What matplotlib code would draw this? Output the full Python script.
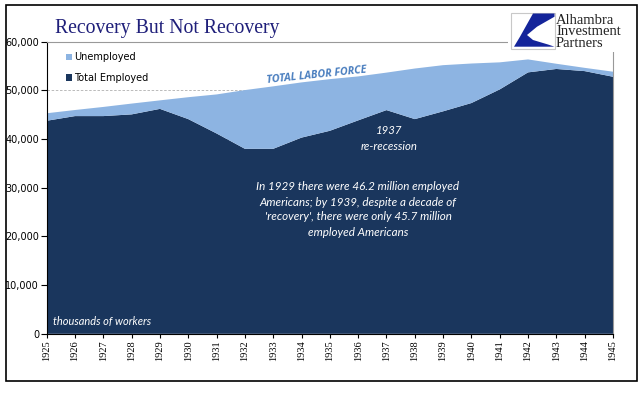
import matplotlib
matplotlib.use("Agg")
import matplotlib.pyplot as plt
from matplotlib.patches import Patch, Rectangle, Polygon
from matplotlib.ticker import FuncFormatter

years = list(range(1925, 1946))
employed = [43760, 44720, 44720, 45070, 46200, 44100, 41150, 38000, 38000, 40300,
            41700, 43840, 45950, 44100, 45700, 47400, 50200, 53700, 54400, 53960, 52800]
unemployed = [1540, 1250, 1880, 2220, 1750, 4500, 8020, 12060, 12830, 11340,
              10610, 9030, 7700, 10390, 9480, 8120, 5560, 2660, 1070, 670, 1040]
y_ticks = [0, 10000, 20000, 30000, 40000, 50000, 60000]

DARK = "#1a365d"
LIGHT = "#8db4e2"
W, H = 641, 401

fig = plt.figure(figsize=(W / 100, H / 100), dpi=100)
fig.patch.set_facecolor("white")

ax = fig.add_axes([46.7 / W, 1 - 333.8 / H, (613 - 46.7) / W, (333.8 - 41.7) / H])
ax.stackplot(years, employed, unemployed, colors=[DARK, LIGHT], linewidth=0)
ax.set_xlim(1925, 1945)
ax.set_ylim(0, 60000)
ax.set_xticks(years)
ax.set_xticklabels([str(y) for y in years], rotation=90, fontsize=7.5,
                   family="Liberation Serif")
ax.set_yticks(y_ticks)
ax.yaxis.set_major_formatter(FuncFormatter(lambda v, p: f"{int(v):,}"))
for lab in ax.get_yticklabels():
    lab.set_fontsize(7)
ax.tick_params(axis="y", length=4, width=0.8, pad=1.5, direction="out")
ax.tick_params(axis="x", length=3, width=0.8, pad=1.5, direction="out")
ax.set_axisbelow(True)
ax.yaxis.grid(True, linestyle=(0, (3, 2)), color="#b0b0b0", linewidth=0.6)
ax.spines["left"].set_color("black")
ax.spines["bottom"].set_color("black")
ax.spines["top"].set_color("#999999")
ax.spines["right"].set_color("#999999")
for s in ["top", "right"]:
    ax.spines[s].set_linewidth(0.8)

# legend
handles = [Patch(facecolor=LIGHT, edgecolor="none"), Patch(facecolor=DARK, edgecolor="none")]
ax.legend(handles, ["Unemployed", "Total Employed"], loc="upper left",
          bbox_to_anchor=(65.5 / W, 1 - 52.5 / H), bbox_transform=fig.transFigure,
          frameon=False, fontsize=7, handlelength=0.65, handleheight=0.65,
          handletextpad=0.25, labelspacing=1.05, borderpad=0, borderaxespad=0)

# overlay in pixel coordinates
ov = fig.add_axes([0, 0, 1, 1], zorder=10)
ov.set_xlim(0, W)
ov.set_ylim(H, 0)
ov.axis("off")
ov.patch.set_alpha(0)

ov.text(317, 75, "TOTAL LABOR FORCE", color="#4a7ebf", fontsize=7.7,
        fontweight="bold", style="italic", family="Open Sans",
        rotation=6, ha="center", va="center")
ov.text(389, 131, "1937", color="white", fontsize=8.2, style="italic",
        family="Lato", ha="center", va="center")
ov.text(389, 146, "re-recession", color="white", fontsize=8.2, style="italic",
        family="Lato", ha="center", va="center")
para = ["In 1929 there were 46.2 million employed",
        "Americans; by 1939, despite a decade of",
        "'recovery', there were only 45.7 million",
        "employed Americans"]
for i, line in enumerate(para):
    ov.text(358, 187 + 15 * i, line, color="white", fontsize=8.4, style="italic",
            family="Lato", ha="center", va="center")
ov.text(53, 321, "thousands of workers", color="white", fontsize=7.9,
        style="italic", family="Lato", ha="left", va="center")

# title
ov.text(55, 33, "Recovery But Not Recovery", color="#1f1f7a", fontsize=14.2,
        family="Liberation Serif", ha="left", va="baseline")

# logo area
ov.add_patch(Rectangle((508, 6), 128, 46, facecolor="white", edgecolor="none"))
ov.add_patch(Rectangle((511, 12.7), 44, 36.3, facecolor="white",
                       edgecolor="#c8c8c8", linewidth=0.8))
logo_pts = [(533, 13.5), (554.5, 13.5), (554.5, 16.7), (537, 26.7), (527, 35),
            (533, 40), (548, 44.5), (554.5, 46.7), (514, 46.7), (520, 36.7)]
ov.add_patch(Polygon(logo_pts, closed=True, facecolor="#14249a", edgecolor="none"))
ov.text(556, 14, "Alhambra\nInvestment\nPartners", color="#222222", fontsize=10.5,
        family="Liberation Serif", ha="left", va="top", linespacing=0.83)

# outer frame
ov.add_patch(Rectangle((6, 5), 631, 376, facecolor="none", edgecolor="black",
                       linewidth=1.2))

fig.savefig("out.png", dpi=100)
